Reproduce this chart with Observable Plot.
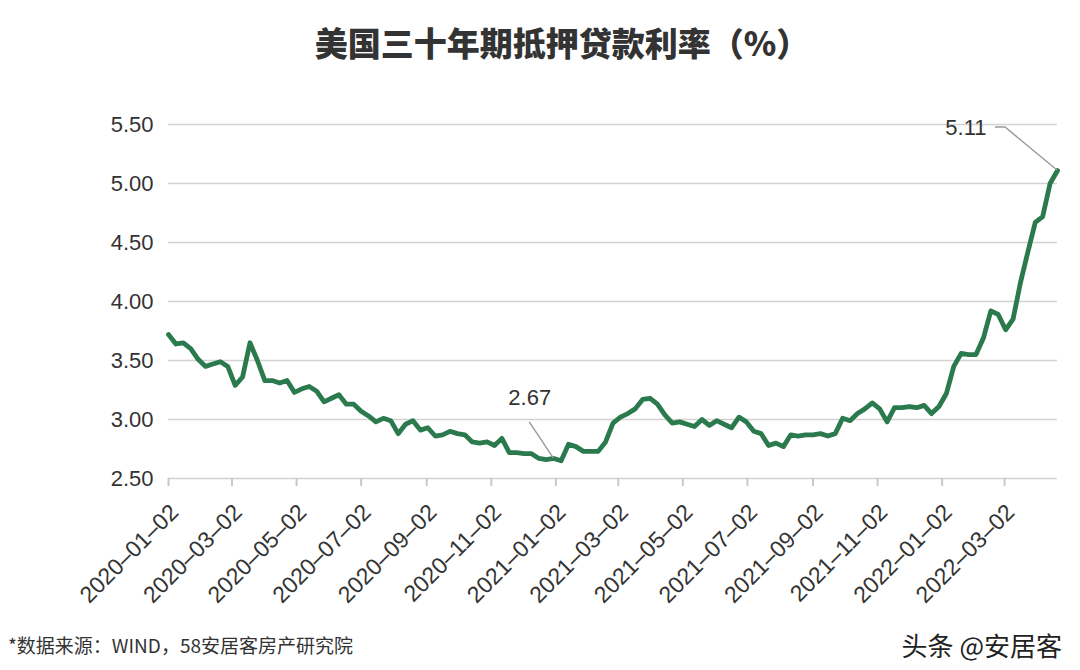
<!DOCTYPE html>
<html><head><meta charset="utf-8">
<script src="https://cdn.jsdelivr.net/npm/d3@7"></script>
<script src="https://cdn.jsdelivr.net/npm/@observablehq/plot@0.6"></script>
<style>
body{margin:0;background:#fff;width:1080px;height:670px;overflow:hidden;position:relative;font-family:"Liberation Sans",Arial,sans-serif;}
#title{position:absolute;top:0;left:0;width:1080px;height:84px;box-sizing:border-box;padding-left:44px;text-align:center;line-height:84px;font-family:"Noto Sans CJK SC",sans-serif;font-weight:900;font-size:33px;color:#333;}
#chart{position:absolute;top:84px;left:0;}
#source{position:absolute;left:8px;top:632px;font-family:"Noto Sans CJK SC",sans-serif;font-size:19px;color:#333;line-height:26px;}
#brand{position:absolute;right:18px;top:627px;font-family:"Noto Sans CJK SC",sans-serif;font-size:26px;color:#222;line-height:36px;}
</style></head>
<body>
<div id="title">美国三十年期抵押贷款利率（%）</div>
<div id="chart"></div>
<div id="source">*数据来源：WIND，58安居客房产研究院</div>
<div id="brand">头条 @安居客</div>
<script>
// Weekly 30-year mortgage rate (%), Thursdays from 2020-01-02
const firstWeek = "2020-01-02";
const rates2020 = [3.72,3.64,3.65,3.60,3.51,3.45,3.47,3.49,3.45,3.29,3.36,3.65,3.50,3.33,3.33,3.31,3.33,3.23,3.26,3.28,3.24,3.15,3.18,3.21,3.13,3.13,3.07,3.03,2.98,3.01,2.99,2.88,2.96,2.99,2.91,2.93,2.86,2.87,2.90,2.88,2.87,2.81,2.80,2.81,2.78,2.84,2.72,2.72,2.71,2.71,2.67,2.66,2.67];
const rates2021 = [2.65,2.79,2.77,2.73,2.73,2.73,2.81,2.97,3.02,3.05,3.09,3.17,3.18,3.13,3.04,2.97,2.98,2.96,2.94,3.00,2.95,2.99,2.96,2.93,3.02,2.98,2.90,2.88,2.78,2.80,2.77,2.87,2.86,2.87,2.87,2.88,2.86,2.88,3.01,2.99,3.05,3.09,3.14,3.09,2.98,3.10,3.10,3.11,3.10,3.12,3.05,3.11];
const rates2022 = [3.22,3.45,3.56,3.55,3.55,3.69,3.92,3.89,3.76,3.85,4.16,4.42,4.67,4.72,5.00,5.11];
const xTickLabels = ["2020-01-02","2020-03-02","2020-05-02","2020-07-02","2020-09-02","2020-11-02","2021-01-02","2021-03-02","2021-05-02","2021-07-02","2021-09-02","2021-11-02","2022-01-02","2022-03-02"];
const yTicks = [2.5,3.0,3.5,4.0,4.5,5.0,5.5];
const annotations = [
  {date: "2020-12-31", label: "2.67"},
  {date: "2022-04-21", label: "5.11"}
];

const parse = d3.utcParse("%Y-%m-%d");
const start = parse(firstWeek);
const rates = [...rates2020, ...rates2021, ...rates2022];
const data = rates.map((r, i) => ({date: d3.utcDay.offset(start, 7 * i), rate: r}));
const xTicks = xTickLabels.map(parse);
const ann = annotations.map(a => {
  const t = +parse(a.date);
  const d = data.find(p => +p.date === t);
  return {date: d.date, rate: d.rate, label: a.label};
});

const green = "#2a7a4e";
const grey = "#9a9a9a";

// leader lines for annotations (pixel offsets are styling)
const leaders = (index, scales) => {
  const g = d3.create("svg:g").attr("fill", "none").attr("stroke", grey).attr("stroke-width", 1.4);
  const a0 = ann[0], a1 = ann[1];
  const x0 = scales.x(a0.date), y0 = scales.y(a0.rate);
  g.append("path").attr("d", `M${x0},${y0}L${x0 - 24},${y0 - 36}`);
  const x1 = scales.x(a1.date), y1 = scales.y(a1.rate);
  g.append("path").attr("d", `M${x1},${y1}L${x1 - 52},${y1 - 43}L${x1 - 62},${y1 - 43}`);
  return g.node();
};

const plot = Plot.plot({
  width: 1080,
  height: 586,
  marginTop: 40,
  marginBottom: 192,
  marginLeft: 168,
  marginRight: 23,
  style: {fontFamily: "'Liberation Sans', Arial, sans-serif", fontSize: "22px", color: "#333", background: "white", overflow: "visible"},
  x: {type: "utc", domain: [data[0].date, data[data.length - 1].date]},
  y: {domain: [2.5, 5.5]},
  marks: [
    Plot.gridY(yTicks, {stroke: "#d2d2d2", strokeWidth: 1.6, strokeOpacity: 1}),
    Plot.axisY(yTicks, {tickSize: 0, tickPadding: 15, tickFormat: d3.format(".2f"), fontSize: 22, fill: "#333", label: null}),
    Plot.axisX(xTicks, {tickSize: 8, tickFormat: () => "", stroke: "#c8c8c8", strokeWidth: 2, label: null}),
    Plot.text(xTicks, {x: d => d, frameAnchor: "bottom", text: (d, i) => xTickLabels[i].replace(/-/g, "–"), rotate: -45, textAnchor: "end", lineAnchor: "middle", dx: 6, dy: 30, fontSize: 23, fill: "#333"}),
    Plot.lineY(data, {x: "date", y: "rate", stroke: green, strokeWidth: 4.8, strokeLinejoin: "round", strokeLinecap: "round"}),
    leaders,
    Plot.text([ann[0]], {x: "date", y: "rate", text: "label", dx: -24, dy: -60, fontSize: 22, fill: "#333"}),
    Plot.text([ann[1]], {x: "date", y: "rate", text: "label", dx: -71, dy: -43, textAnchor: "end", fontSize: 22, fill: "#333"})
  ]
});
document.getElementById("chart").appendChild(plot);
</script>
</body></html>
